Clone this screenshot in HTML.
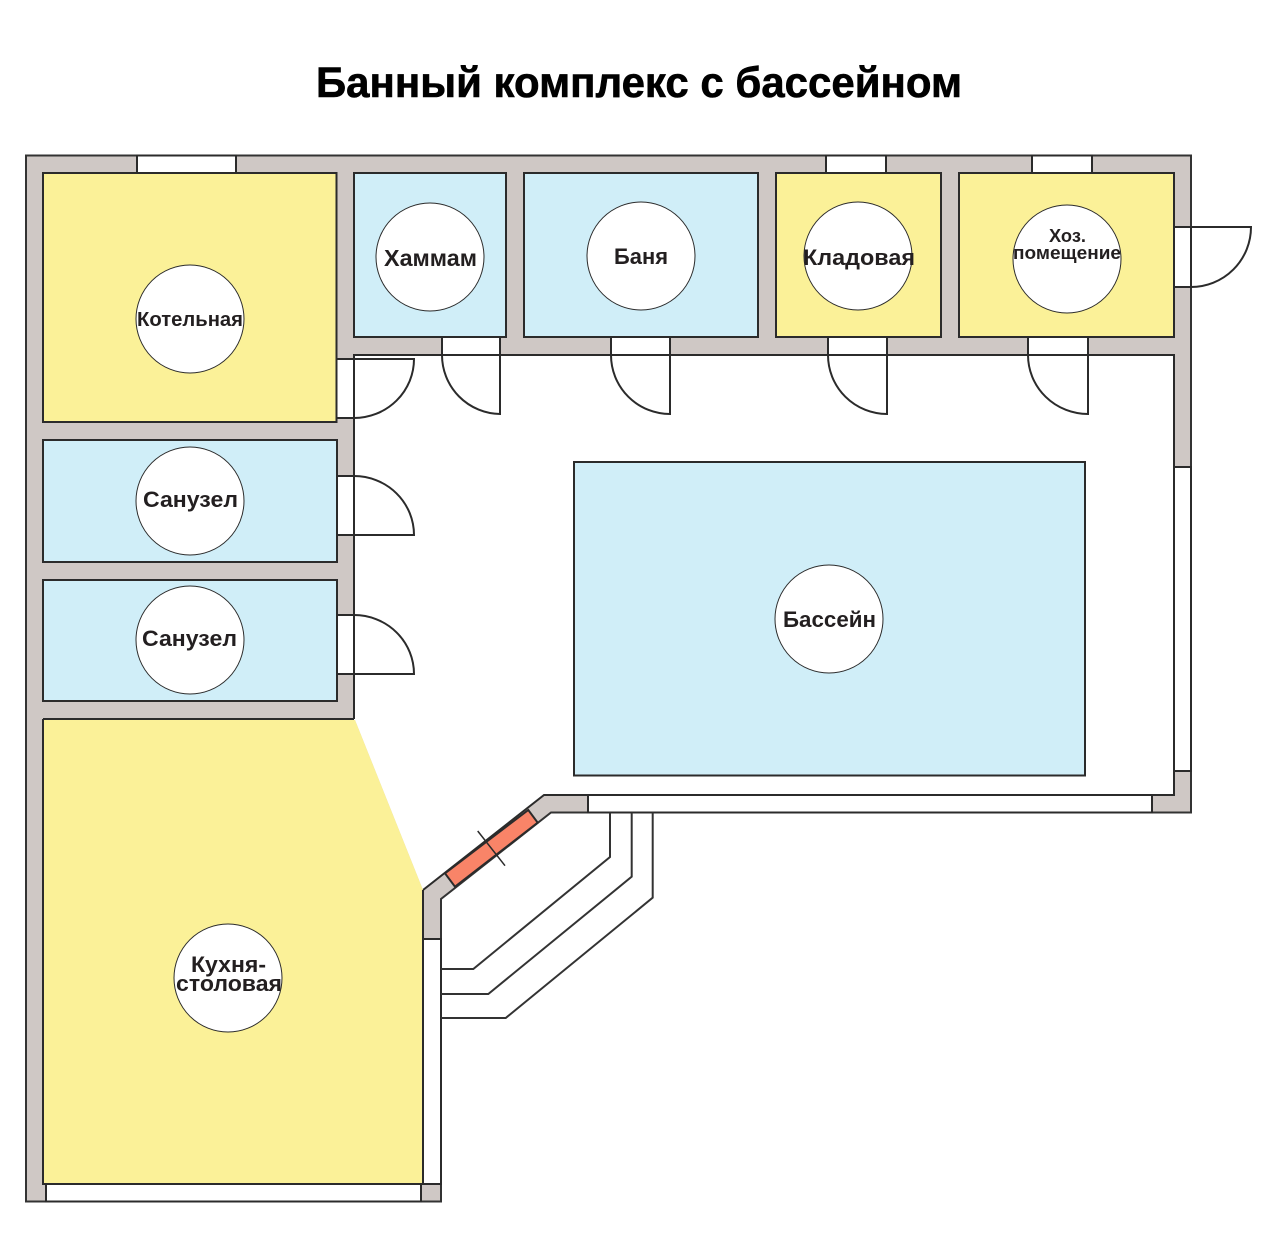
<!DOCTYPE html>
<html><head><meta charset="utf-8"><style>
html,body{margin:0;padding:0;background:#fff}
svg{display:block}
.t{font-family:"Liberation Sans",sans-serif;font-weight:bold;fill:#231f20;text-anchor:start}
</style></head><body>
<svg width="1280" height="1233" viewBox="0 0 1280 1233" xmlns="http://www.w3.org/2000/svg">
<rect width="1280" height="1233" fill="#fff"/>
<text x="316" y="97" font-family="'Liberation Sans',sans-serif" font-weight="bold" font-size="43" fill="#000" stroke="#000" stroke-width="0.6" textLength="646" lengthAdjust="spacingAndGlyphs">Банный комплекс с бассейном</text>

<!-- outer walls -->
<path d="M26 155.500H1191V812.500H551L441 899V1201.500H26Z" fill="#cfc8c5" stroke="#333" stroke-width="2"/>
<!-- hall -->
<path d="M354 355H1174V795H544L423 890L355 720H354Z" fill="#fff"/>
<path d="M354 719V355H1174V795H544L423 890" fill="none" stroke="#2b2b2b" stroke-width="2"/>
<path d="M43 719H354" stroke="#2b2b2b" stroke-width="2"/>

<!-- kitchen -->
<path d="M43 720H355L423 890V1184H43Z" fill="#fbf198"/>
<path d="M43 719V1184H423V890" fill="none" stroke="#2b2b2b" stroke-width="2"/>

<!-- rooms -->
<g stroke="#2b2b2b" stroke-width="2">
<rect x="43" y="173" width="293.500" height="249" fill="#fbf198"/>
<rect x="354" y="173" width="152" height="164" fill="#d0eef8"/>
<rect x="524" y="173" width="234" height="164" fill="#d0eef8"/>
<rect x="776" y="173" width="165" height="164" fill="#fbf198"/>
<rect x="959" y="173" width="215" height="164" fill="#fbf198"/>
<rect x="43" y="440" width="294" height="122" fill="#d0eef8"/>
<rect x="43" y="580" width="294" height="121" fill="#d0eef8"/>
<rect x="574" y="462" width="511" height="313.500" fill="#d0eef8"/>
</g>

<!-- windows -->
<g fill="#fff" stroke="#2b2b2b" stroke-width="2">
<rect x="137" y="155.500" width="99" height="17.500"/>
<rect x="826" y="155.500" width="60" height="17.500"/>
<rect x="1032" y="155.500" width="60" height="17.500"/>
<rect x="1174" y="467" width="17" height="304"/>
<rect x="588" y="795" width="564" height="17.500"/>
<rect x="423" y="939" width="18" height="245"/>
<rect x="46" y="1184" width="375" height="17.500"/>
</g>

<!-- red door -->
<path d="M445 873.300L528.300 810L537.700 822.700L455 886.700Z" fill="#f98468" stroke="#2b2b2b" stroke-width="2"/>
<path d="M477.700 831L505 865.700" stroke="#2b2b2b" stroke-width="1.500"/>

<!-- terrace -->
<g fill="none" stroke="#333" stroke-width="2">
<path d="M610 812.500V857L473.300 969H441"/>
<path d="M631.700 812.500V876.700L488.300 994H441"/>
<path d="M652.700 812.500V897.700L505.700 1018H441"/>
</g>

<!-- doors -->
<g fill="#fff" stroke="#2b2b2b" stroke-width="2">
<rect x="442" y="337" width="58" height="18"/>
<rect x="611" y="337" width="59" height="18"/>
<rect x="828" y="337" width="59" height="18"/>
<rect x="1028" y="337" width="60" height="18"/>
<rect x="336.500" y="359" width="17.500" height="59"/>
<rect x="337" y="476" width="17" height="59"/>
<rect x="337" y="615" width="17" height="59"/>
<rect x="1174" y="227" width="17" height="60"/>
</g>
<g fill="none" stroke="#2b2b2b" stroke-width="2">
<path d="M442 355A59 59 0 0 0 500 414V355"/>
<path d="M611 355A59 59 0 0 0 670 414V355"/>
<path d="M828 355A59 59 0 0 0 887 414V355"/>
<path d="M1028 355A60 59 0 0 0 1088 414V355"/>
<path d="M354 359H414A60 59 0 0 1 354 418"/>
<path d="M354 476A60 59 0 0 1 414 535H354"/>
<path d="M354 615A60 59 0 0 1 414 674H354"/>
<path d="M1191 227H1251A60 60 0 0 1 1191 287"/>
</g>

<!-- circles -->
<g fill="#fff" stroke="#2b2b2b" stroke-width="1">
<circle cx="190" cy="319" r="54"/>
<circle cx="430" cy="257" r="54"/>
<circle cx="641" cy="256" r="54"/>
<circle cx="858" cy="256" r="54"/>
<circle cx="1067" cy="259" r="54"/>
<circle cx="190" cy="501" r="54"/>
<circle cx="190" cy="640" r="54"/>
<circle cx="829" cy="619" r="54"/>
<circle cx="228" cy="978" r="54"/>
</g>

<!-- labels -->
<text class="t" x="137" y="326" font-size="20" textLength="106" lengthAdjust="spacingAndGlyphs">Котельная</text>
<text class="t" x="384" y="266" font-size="23" textLength="93" lengthAdjust="spacingAndGlyphs">Хаммам</text>
<text class="t" x="614" y="264" font-size="22" textLength="54" lengthAdjust="spacingAndGlyphs">Баня</text>
<text class="t" x="803" y="265" font-size="22" textLength="112" lengthAdjust="spacingAndGlyphs">Кладовая</text>
<text class="t" x="1049" y="242" font-size="18" textLength="37" lengthAdjust="spacingAndGlyphs">Хоз.</text>
<text class="t" x="1013" y="259" font-size="18" textLength="108" lengthAdjust="spacingAndGlyphs">помещение</text>
<text class="t" x="143" y="507" font-size="22" textLength="95" lengthAdjust="spacingAndGlyphs">Санузел</text>
<text class="t" x="142" y="646" font-size="22" textLength="95" lengthAdjust="spacingAndGlyphs">Санузел</text>
<text class="t" x="783" y="627" font-size="22" textLength="93" lengthAdjust="spacingAndGlyphs">Бассейн</text>
<text class="t" x="191" y="972" font-size="22" textLength="75" lengthAdjust="spacingAndGlyphs">Кухня-</text>
<text class="t" x="176" y="991" font-size="22" textLength="106" lengthAdjust="spacingAndGlyphs">столовая</text>
</svg>
</body></html>
